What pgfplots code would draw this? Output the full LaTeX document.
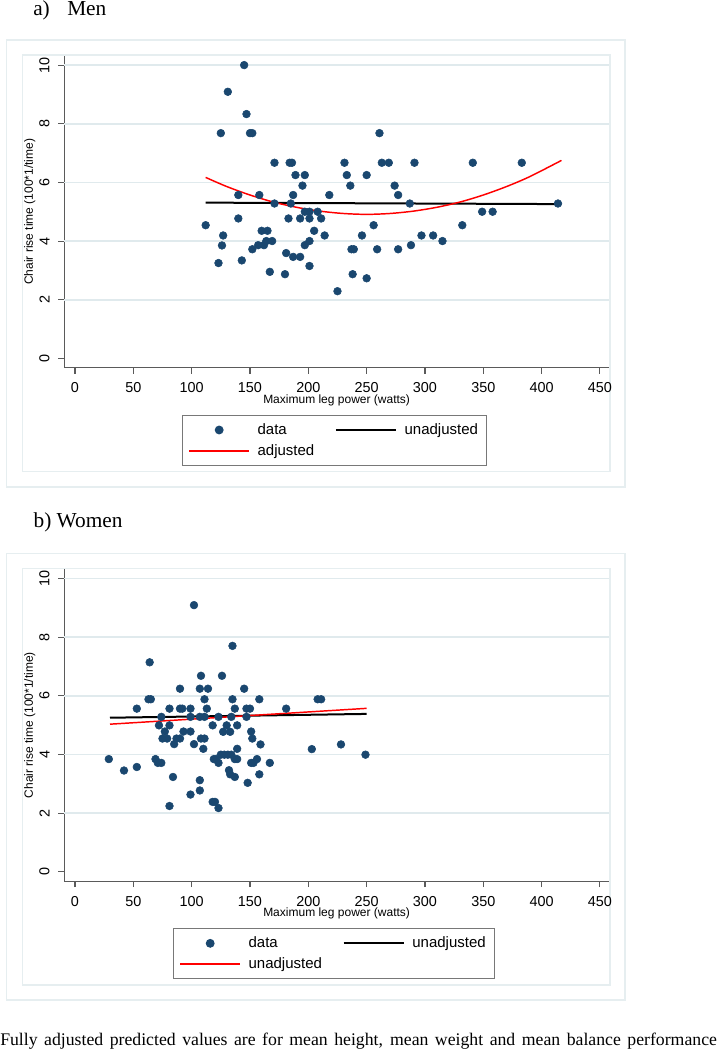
\documentclass[border=0pt]{standalone}
\usepackage{fontspec}
\setmainfont{Liberation Sans}
\newfontfamily\timesfont{Liberation Serif}
\usepackage{pgfplots}
\pgfplotsset{compat=1.18}

\definecolor{statanavy}{RGB}{26,71,111}
\definecolor{gridc}{RGB}{224,234,237}
\definecolor{framec}{RGB}{230,238,240}
\definecolor{axisc}{RGB}{90,90,90}
\definecolor{legc}{RGB}{120,120,120}

\pgfplotsset{
  statapanel/.style={
    scale only axis, width=408.5pt, height=233.8pt,
    anchor=south west,
    xmin=-9.2, xmax=457.7, ymin=-0.32, ymax=10.31,
    axis x line*=bottom, axis y line*=left,
    axis line style={draw=axisc, line width=0.8pt},
    xtick={0,50,...,450}, ytick={0,2,...,10},
    tick align=outside, major tick length=4.5pt,
    tick style={draw=axisc, line width=0.8pt},
    extra y ticks={2,4,6,8,10}, extra y tick labels={},
    extra y tick style={grid=major, major tick length=0pt},
    grid style={draw=gridc, line width=1.3pt},
    /pgf/number format/assume math mode=true,
    scaled ticks=false,
    tick label style={font=\fontsize{10.8}{12}\selectfont},
    xticklabel style={inner sep=0pt, yshift=-6.5pt},
    yticklabel style={inner sep=0pt, xshift=-6.3pt, rotate=90, anchor=south},
    label style={font=\fontsize{9}{11}\selectfont},
    xlabel={Maximum leg power (watts)},
    ylabel={Chair rise time (100*1/time)},
    xlabel style={at={(axis description cs:0.5,-0.105)}, anchor=center},
    ylabel style={at={(axis description cs:-0.0635,0.5)}, anchor=center},
    legend columns=2,
    legend cell align=left,
    legend style={
      anchor=north west,
      draw=legc, line width=0.8pt,
      font=\fontsize{11.25}{12}\selectfont,
      inner xsep=4.5pt, inner ysep=4.5pt,
      nodes={inner ysep=1.5pt},
      row sep=3pt,
      /tikz/every odd column/.append style={column sep=3.75pt},
      /tikz/every even column/.append style={column sep=13.5pt},
    },
    legend image code/.code={\draw[#1] (0pt,0pt) -- (45pt,0pt);},
  },
  statadots/.style={only marks, mark=*, mark size=2.9pt,
    mark options={fill=statanavy, draw=statanavy},
    legend image code/.code={\draw[mark repeat=2,mark phase=2,##1] plot coordinates {(0pt,0pt) (22.5pt,0pt) (45pt,0pt)};}},
}

\begin{document}
\begin{tikzpicture}
\path[use as bounding box] (0pt,0pt) rectangle (537.75pt,-787.5pt);

% frames panel a
\draw[framec, line width=0.9pt] (5pt,-30pt) rectangle (468.75pt,-365.25pt);
\draw[framec, line width=0.9pt] (17pt,-41.25pt) rectangle (457.5pt,-353.8pt);
% frames panel b
\draw[framec, line width=0.9pt] (5pt,-415pt) rectangle (468.75pt,-750pt);
\draw[framec, line width=0.9pt] (17pt,-426.25pt) rectangle (457.5pt,-738.8pt);

\node[anchor=base west, inner sep=0pt, font=\timesfont\fontsize{16}{18}\selectfont] at (24.75pt,-11.25pt) {a)};
\node[anchor=base west, inner sep=0pt, font=\timesfont\fontsize{16}{18}\selectfont] at (50.25pt,-11.25pt) {Men};
\node[anchor=base west, inner sep=0pt, font=\timesfont\fontsize{16}{18}\selectfont] at (25pt,-395.6pt) {b) Women};

\begin{axis}[statapanel, at={(48.2pt,-275.8pt)},
  legend style={at={(axis description cs:0.216,-0.1517)}}]
\addplot[statadots] coordinates {
(112,4.54) (123,3.25) (125,7.68) (126,3.85) (127,4.19) (131,9.09) (140,5.57)
(140,4.77) (143,3.34) (145,10.0) (147,8.33) (150,7.68) (152,7.68) (152,3.72)
(157,3.86) (158,5.57) (160,4.35) (162,3.86) (164,4.00) (165,4.35) (167,2.95)
(169,4.00) (171,6.67) (171,5.28) (181,3.59) (180,2.87) (183,4.77) (184,6.67)
(186,6.67) (185,5.28) (187,5.57) (187,3.46) (189,6.25) (193,3.46) (193,4.77)
(195,5.89) (197,6.25) (197,5.00) (197,3.86) (201,4.00) (201,5.00) (201,4.77)
(201,3.15) (205,4.35) (208,5.00) (211,4.77) (214,4.19) (218,5.57) (225,2.29)
(231,6.67) (233,6.25) (236,5.89) (237,3.72) (239,3.72) (238,2.87) (246,4.19)
(250,6.25) (250,2.73) (256,4.54) (259,3.72) (261,7.68) (263,6.67) (269,6.67)
(274,5.89) (277,5.57) (277,3.72) (287,5.28) (288,3.86) (291,6.67) (297,4.19)
(307,4.19) (315,4.00) (332,4.54) (341,6.67) (349,5.00) (358,5.00) (383,6.67)
(414,5.28)
};
\addlegendentry{data}
\addplot[black, line width=1.5pt] coordinates {(112,5.31) (417,5.26)};
\addlegendentry{unadjusted}
\addplot[red, line width=1.1pt, smooth] coordinates {
(112,6.17) (130,5.86) (150,5.57) (170,5.33) (190,5.15) (210,5.02) (230,4.94)
(250,4.91) (270,4.94) (290,5.02) (310,5.15) (330,5.33) (350,5.57) (370,5.86)
(390,6.20) (417,6.75)
};
\addlegendentry{adjusted}
\end{axis}

\begin{axis}[statapanel, at={(48.2pt,-660.8pt)},
  legend style={at={(axis description cs:0.1995,-0.1517)}}]
\addplot[statadots] coordinates {
(29,3.84) (42,3.45) (53,3.57) (53,5.56) (64,7.14) (63,5.88) (65,5.88)
(69,3.84) (71,3.71) (74,3.71) (72,4.99) (74,5.28) (77,4.78) (75,4.54)
(79,4.54) (81,5.56) (81,4.99) (81,2.24) (84,3.23) (85,4.35) (87,4.54)
(90,4.54) (90,6.24) (90,5.56) (92,5.56) (93,4.78) (99,5.56) (99,5.28)
(99,4.78) (99,2.63) (102,4.35) (102,9.09) (108,6.68) (107,6.24) (107,5.28)
(107,3.12) (107,2.77) (108,4.54) (111,4.54) (110,4.19) (111,5.88) (111,5.28)
(113,5.56) (114,6.24) (118,4.99) (118,2.38) (120,2.38) (123,2.17) (119,3.84)
(121,3.84) (123,3.71) (123,5.28) (126,6.68) (125,3.99) (128,3.99) (131,3.99)
(134,3.99) (127,4.77) (130,4.99) (132,3.46) (133,3.32) (137,3.23) (137,3.84)
(139,3.84) (133,4.77) (135,7.70) (135,5.88) (137,5.56) (134,5.28) (139,4.99)
(139,4.19) (145,6.24) (147,5.56) (150,5.56) (147,5.28) (148,3.03) (151,4.78)
(152,4.54) (151,3.71) (153,3.71) (156,3.84) (158,5.88) (158,3.32) (159,4.34)
(167,3.71) (181,5.56) (203,4.18) (208,5.88) (211,5.88) (228,4.34) (249,3.99)
};
\addlegendentry{data}
\addplot[black, line width=1.5pt] coordinates {(30,5.25) (250,5.38)};
\addlegendentry{unadjusted}
\addplot[red, line width=1.1pt] coordinates {(30,5.03) (250,5.57)};
\addlegendentry{unadjusted}
\end{axis}

\node[anchor=base west, inner sep=0pt, font=\timesfont\fontsize{13.3}{15}\selectfont] at (0pt,-783.75pt)
  {\makebox[537.5pt][s]{Fully adjusted predicted values are for mean height, mean weight and mean balance performance}};
\end{tikzpicture}
\end{document}
